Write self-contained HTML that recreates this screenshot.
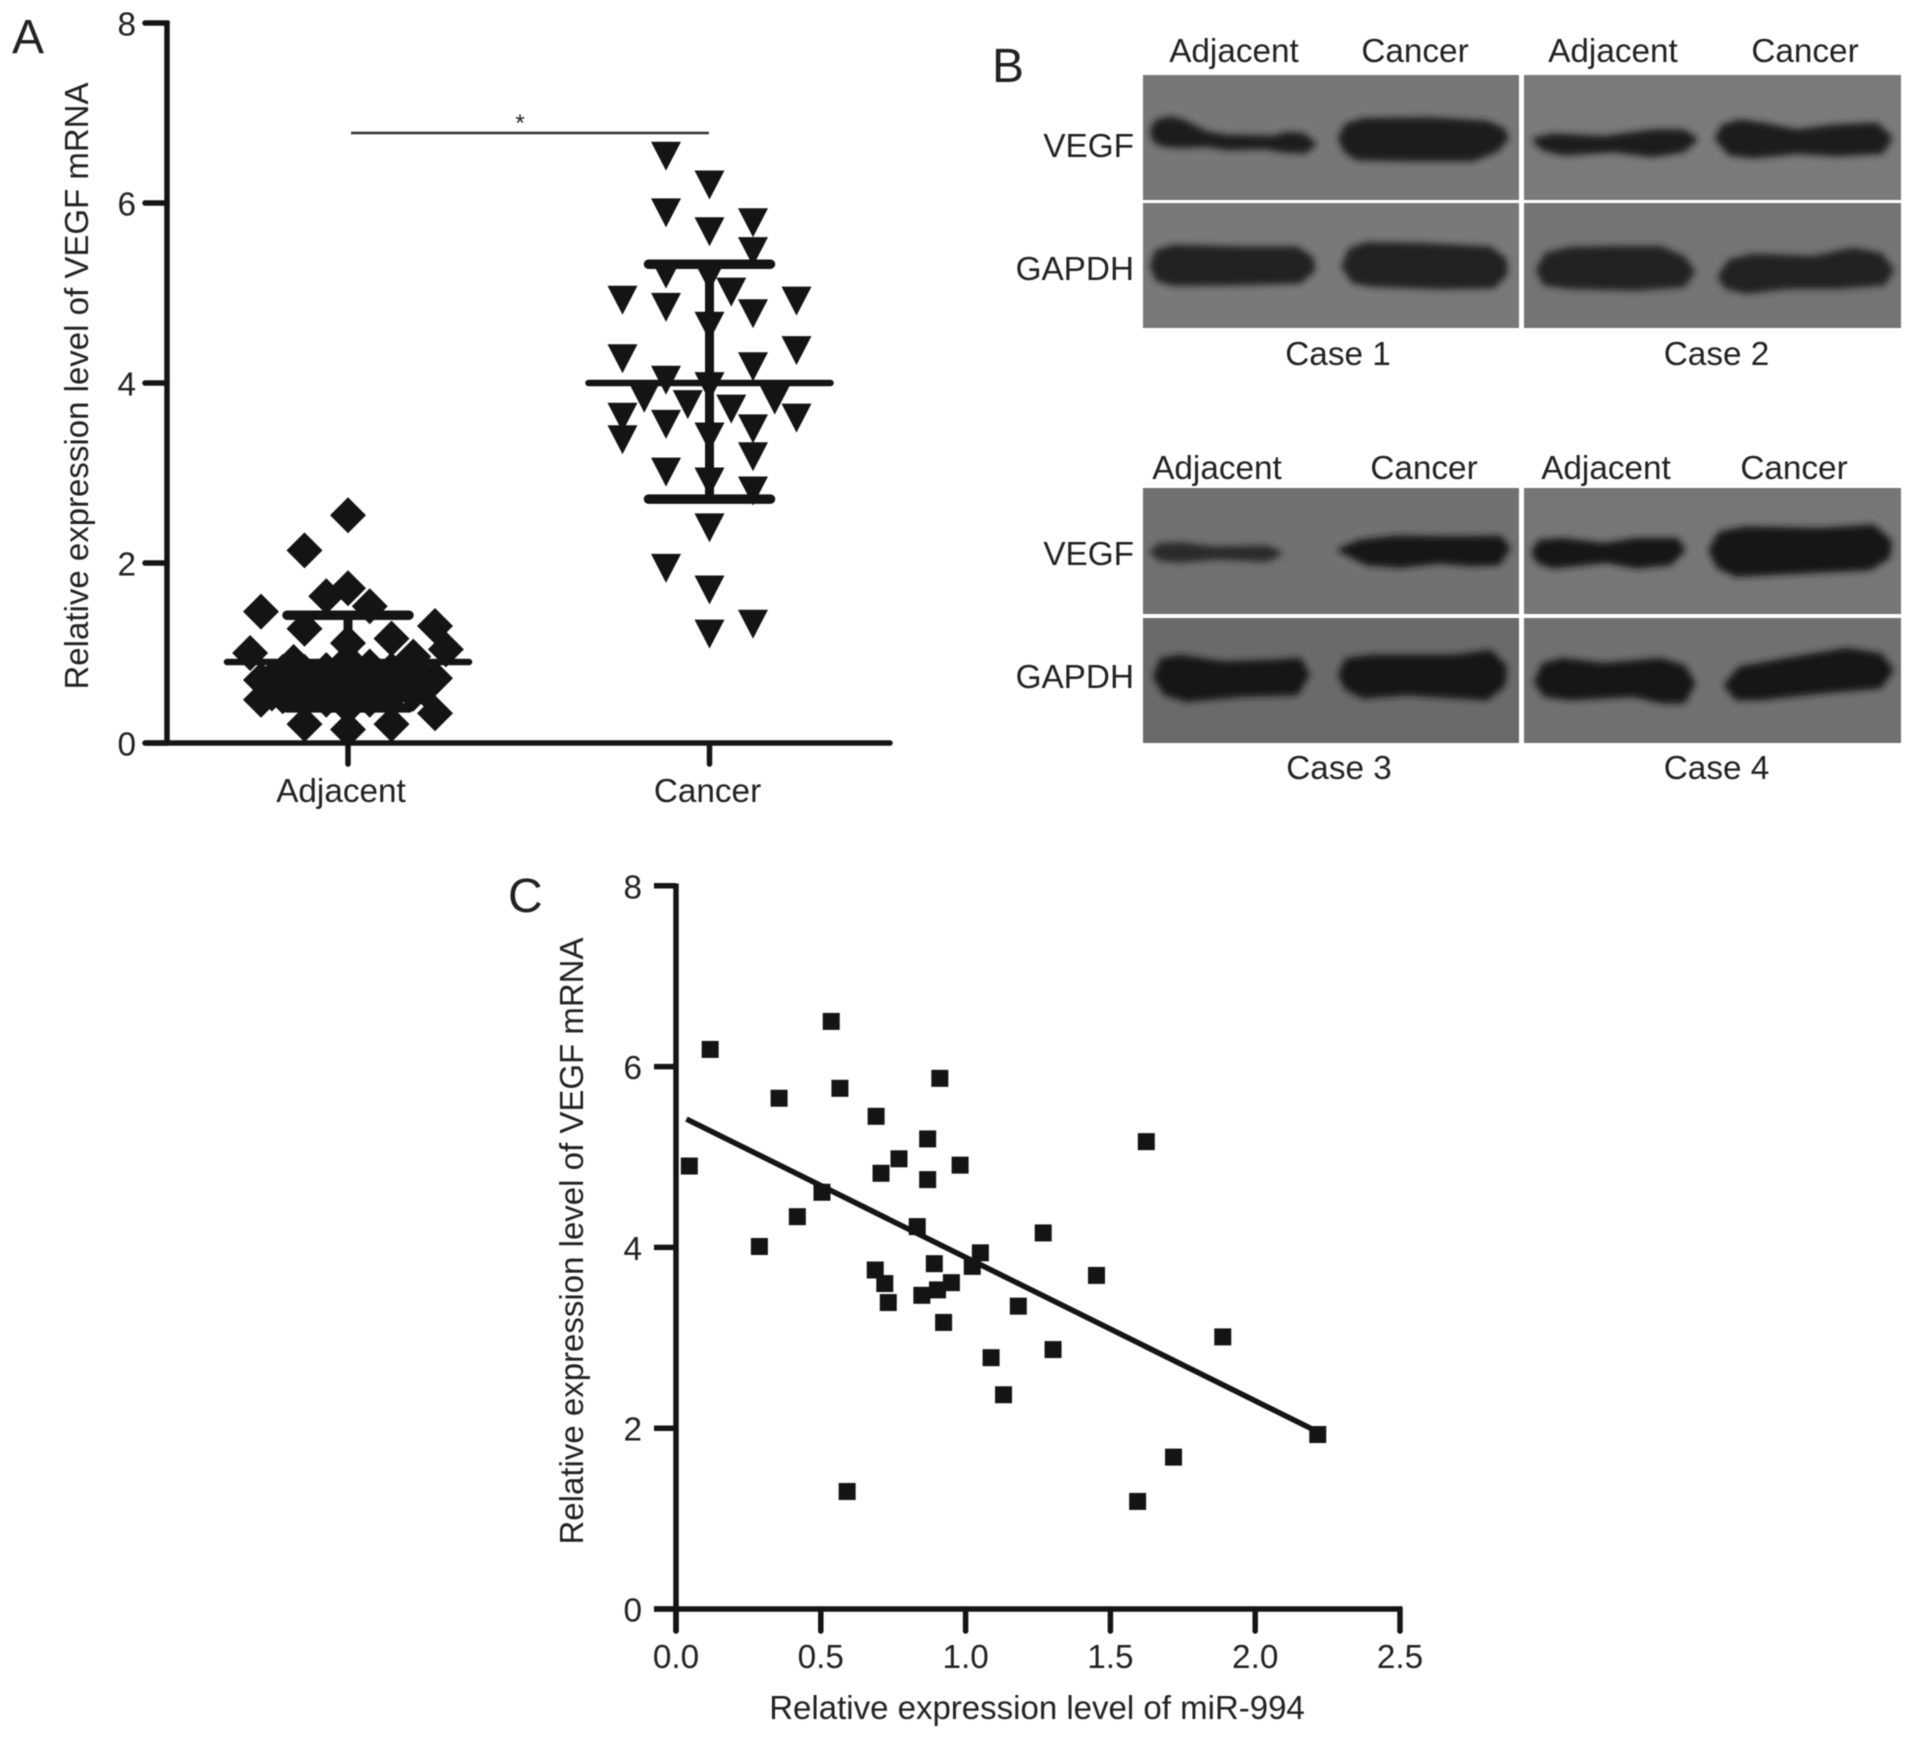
<!DOCTYPE html>
<html lang="en">
<head>
<meta charset="utf-8">
<title>VEGF expression figure</title>
<style>
html,body{margin:0;padding:0;background:#fff;width:1913px;height:1739px;overflow:hidden}
svg{display:block;filter:blur(.6px)}
text{font-family:"Liberation Sans",sans-serif;fill:#222;font-size:33.3px}
.panel{font-size:48px}
.title{font-size:33px}
</style>
</head>
<body>
<svg id="fig" xmlns="http://www.w3.org/2000/svg" width="1913" height="1739" viewBox="0 0 1913 1739">
<defs>
<filter id="soft" x="-20%" y="-40%" width="140%" height="180%"><feGaussianBlur stdDeviation="10"/></filter>
</defs>
<rect width="1913" height="1739" fill="#fff"/>

<!-- Panel A -->
<g id="panelA">
<text class="panel" x="12" y="53">A</text>
<text class="title" transform="translate(88,386) rotate(-90)" text-anchor="middle">Relative expression level of VEGF mRNA</text>
<line x1="351" y1="133" x2="709" y2="133" stroke="#333" stroke-width="2.6"/>
<text x="520" y="131" text-anchor="middle" style="font-size:24px">*</text>
</g>

<!-- Panel B -->
<g id="panelB">
<text class="panel" x="992" y="82">B</text>

<text x="1234" y="62" text-anchor="middle">Adjacent</text>
<text x="1415" y="62" text-anchor="middle">Cancer</text>
<text x="1613" y="62" text-anchor="middle">Adjacent</text>
<text x="1805" y="62" text-anchor="middle">Cancer</text>
<text x="1134" y="157" text-anchor="end">VEGF</text>
<text x="1134" y="280" text-anchor="end">GAPDH</text>
<text x="1338" y="365" text-anchor="middle">Case 1</text>
<text x="1716.5" y="365" text-anchor="middle">Case 2</text>

<text x="1217" y="479" text-anchor="middle">Adjacent</text>
<text x="1424" y="479" text-anchor="middle">Cancer</text>
<text x="1606" y="479" text-anchor="middle">Adjacent</text>
<text x="1794" y="479" text-anchor="middle">Cancer</text>
<text x="1134" y="565" text-anchor="end">VEGF</text>
<text x="1134" y="688" text-anchor="end">GAPDH</text>
<text x="1339" y="779" text-anchor="middle">Case 3</text>
<text x="1716.5" y="779" text-anchor="middle">Case 4</text>

<rect x="1143" y="75" width="376" height="125" fill="#777"/>
<rect x="1143" y="203" width="376" height="125" fill="#797979"/>
<rect x="1524" y="75" width="377" height="125" fill="#7a7a7a"/>
<rect x="1524" y="203" width="377" height="125" fill="#747474"/>
<rect x="1143" y="488" width="376" height="126" fill="#717171"/>
<rect x="1143" y="618" width="376" height="125" fill="#6a6a6a"/>
<rect x="1524" y="488" width="377" height="126" fill="#767676"/>
<rect x="1524" y="618" width="377" height="125" fill="#707070"/>

<g transform="translate(1140,70) scale(.33333)" fill="#1c1c1c" stroke="#1c1c1c" stroke-width="12" stroke-linejoin="round" filter="url(#soft)">
<polygon points="35,185 50,155 90,145 130,155 200,190 260,200 400,203 440,192 490,195 522,222 495,245 430,242 380,232 260,235 200,225 130,228 70,225 45,212"/>
<polygon points="600,205 620,165 670,150 870,148 1040,158 1090,180 1100,205 1070,240 1000,268 800,268 650,265 615,240"/>
<polygon fill="#222" stroke="#222" points="35,590 50,545 100,530 300,535 470,535 515,565 520,600 480,635 300,640 100,642 55,630"/>
<polygon fill="#222" stroke="#222" points="610,590 630,540 680,522 850,525 1050,535 1095,570 1098,610 1060,650 900,652 700,645 640,635"/>
</g>
<g transform="translate(1520,70) scale(.33333)" fill="#1b1b1b" stroke="#1b1b1b" stroke-width="14" stroke-linejoin="round" filter="url(#soft)">
<polygon points="45,210 100,197 250,205 400,185 490,185 525,208 490,240 400,255 280,240 130,250 70,235"/>
<polygon points="592,205 610,170 660,155 730,165 830,185 950,170 1070,165 1110,205 1085,245 950,252 830,245 700,258 630,250"/>
<polygon fill="#242424" stroke="#242424" points="55,600 80,555 150,538 300,535 420,535 490,565 518,605 490,645 350,655 150,650 75,640"/>
<polygon fill="#242424" stroke="#242424" points="600,620 630,575 700,558 880,565 1000,540 1080,555 1115,600 1090,640 950,650 800,650 680,665 620,650"/>
</g>
<g transform="translate(1140,485) scale(.33333)" fill="#191919" stroke="#191919" stroke-width="12" stroke-linejoin="round" filter="url(#soft)">
<polygon fill="#2a2a2a" stroke="#2a2a2a" points="35,200 60,180 130,178 220,190 380,187 420,205 380,225 230,218 120,228 60,222"/>
<polygon points="600,195 660,170 770,158 950,160 1080,158 1105,190 1075,235 990,238 900,230 780,243 680,235"/>
<polygon points="45,575 65,525 120,515 250,535 400,530 480,525 503,570 470,625 300,630 140,645 75,625"/>
<polygon points="600,570 620,525 700,515 950,515 1050,500 1095,545 1090,600 1040,640 800,625 670,635 620,610"/>
</g>
<g transform="translate(1520,485) scale(.33333)" fill="#181818" stroke="#181818" stroke-width="12" stroke-linejoin="round" filter="url(#soft)">
<polygon points="40,200 60,170 130,165 250,180 350,165 470,165 490,195 450,235 350,245 260,228 100,245 55,230"/>
<polygon points="572,195 600,145 680,130 900,135 1060,125 1110,170 1105,215 1050,250 800,262 650,270 595,245"/>
<polygon points="48,590 70,540 130,525 250,540 420,525 490,545 520,595 490,650 430,650 340,630 150,640 75,630"/>
<polygon points="618,600 660,550 800,525 980,495 1080,510 1115,555 1080,605 900,620 720,640 650,640"/>
</g>
</g>

<!-- Panel C -->
<g id="panelC">
<text class="panel" x="508" y="912">C</text>
<text class="title" transform="translate(583,1241) rotate(-90)" text-anchor="middle">Relative expression level of VEGF mRNA</text>
<text class="title" x="1037" y="1719" text-anchor="middle">Relative expression level of miR-994</text>
</g>
</svg>

<script>
/* Panel A data */
const categories = ['Adjacent', 'Cancer'];
const yTicksA = [0, 2, 4, 6, 8];
const adjacentValues = [2.53,2.14,1.72,1.63,1.52,1.46,1.30,1.27,1.16,1.00,1.04,1.11,0.90,0.48,0.33,0.21,0.15,0.21,0.96,0.70,0.72,0.81,0.92,0.85,0.81,0.74,0.70,0.66,0.63,0.63,0.63,0.63,0.55,0.52,0.40,0.48,0.48,0.52,0.52,0.70,0.79,0.66,0.55,0.79,0.66,0.55,0.79,0.66,0.55,0.79,0.66,0.55,0.79,0.66,0.55,0.79,0.66,0.55,0.79,0.66,0.55,0.72,0.55,0.72,0.60];
const adjacentColumns = [0,-2,0,-1,1,-4,4,-2,2,-4.5,4.5,0,-2.5,-4,4,-2,0,2,3,-4,4,-1,0,1,2,3,-2,-3,-1,0,1,2,3,-3,0,-1,1,2,-2,3,-3,-3,-3,-2,-2,-2,-1,-1,-1,0,0,0,1,1,1,2,2,2,3,3,3,-3.5,-3.5,3.5,3.5];
const cancerValues = [6.52,6.20,5.89,5.68,5.78,5.46,5.21,5.18,4.92,4.84,5.01,4.77,4.91,4.63,4.27,4.36,4.18,4.03,3.96,3.83,3.81,3.76,3.71,3.62,3.37,3.54,3.61,3.49,3.40,3.18,3.01,2.90,2.80,2.39,1.94,1.70,1.32,1.21];
const cancerColumns = [-2,0,-2,0,2,2,-2,0,-4,-2,1,2,4,0,-4,4,2,-2,0,-3,3,-1,1,-4,-4,-2,4,2,0,2,-2,0,2,0,-2,0,2,0];
const groupMeans = [0.90, 4.00];
const groupSdLower = [0.39, 2.71];
const groupSdUpper = [1.42, 5.32];

/* Panel C data */
const xTicksC = [0.0, 0.5, 1.0, 1.5, 2.0, 2.5];
const yTicksC = [0, 2, 4, 6, 8];
const mirValues = [0.046,0.118,0.288,0.356,0.419,0.504,0.536,0.566,0.591,0.691,0.688,0.708,0.721,0.733,0.770,0.833,0.849,0.869,0.869,0.892,0.903,0.911,0.924,0.951,0.981,1.023,1.051,1.088,1.131,1.182,1.268,1.302,1.452,1.594,1.624,1.718,1.888,2.216];
const vegfValues = [4.90,6.19,4.01,5.65,4.34,4.61,6.50,5.76,1.30,5.45,3.75,4.82,3.60,3.39,4.98,4.23,3.47,5.20,4.75,3.82,3.53,5.87,3.17,3.61,4.91,3.79,3.94,2.78,2.37,3.35,4.16,2.87,3.69,1.19,5.17,1.68,3.01,1.93];
const fitX = [0.036, 2.216];
const fitY = [5.42, 1.96];

const NS = 'http://www.w3.org/2000/svg';
const INK = '#141414';
const panelA = document.getElementById('panelA');
const panelC = document.getElementById('panelC');

/* axis functions */
function yA(v) { return 743 - 90 * v; }
function xA(groupIndex) { return 348 + 361.5 * groupIndex; }
function colX(groupIndex, column) { return xA(groupIndex) + 21.75 * column; }
function yC(v) { return 1609 - 90.4 * v; }
function xC(v) { return 676 + 289.6 * v; }

function make(tag, parent, attrs) {
  const node = document.createElementNS(NS, tag);
  for (const k in attrs) node.setAttribute(k, attrs[k]);
  parent.appendChild(node);
  return node;
}
function seg(parent, x1, y1, x2, y2, width, cap) {
  return make('line', parent, { x1: x1, y1: y1, x2: x2, y2: y2, stroke: INK, 'stroke-width': width, 'stroke-linecap': cap || 'butt' });
}

/* Panel A axes */
let el = seg(panelA, 167, 20.5, 167, 745.5, 5.5);


el = seg(panelA, 146, 743, 890, 743, 5.5, 'round');



yTicksA.forEach(function (t) {
  let tick = seg(panelA, 145, yA(t), 167, yA(t), 5.5, 'round');
  
  
  let label = make('text', panelA, { x: 136, y: yA(t) + 12.5, 'text-anchor': 'end' });
  label.textContent = String(t);
  
  
});

categories.forEach(function (c, i) {
  let tick = seg(panelA, xA(i), 743, xA(i), 764, 5.5, 'round');
  
  
  let label = make('text', panelA, { x: xA(i) - (i === 0 ? 7 : 2), y: 802, 'text-anchor': 'middle' });
  label.textContent = c;
  
  
});

/* Panel A markers */
adjacentValues.forEach(function (v, i) {
  const cx = colX(0, adjacentColumns[i]);
  const cy = yA(v);
  const r = 18;
  let mark = make('polygon', panelA, { points: [cx, cy - r, cx + r, cy, cx, cy + r, cx - r, cy].join(','), fill: INK });
  
  
});
cancerValues.forEach(function (v, i) {
  const cx = colX(1, cancerColumns[i]);
  const cy = yA(v);
  let mark = make('polygon', panelA, { points: [cx - 15, cy - 14.5, cx + 15, cy - 14.5, cx, cy + 14.5].join(','), fill: INK });
  
  
});

/* Panel A mean and SD bars */
categories.forEach(function (c, i) {
  let whisker = seg(panelA, xA(i), yA(groupSdUpper[i]), xA(i), yA(groupSdLower[i]), 9);
  
  
  let mean = seg(panelA, xA(i) - 121, yA(groupMeans[i]), xA(i) + 121, yA(groupMeans[i]), 6.5, 'round');
  
  
  let upper = seg(panelA, xA(i) - 61, yA(groupSdUpper[i]), xA(i) + 61, yA(groupSdUpper[i]), 9.5, 'round');
  
  
  let lower = seg(panelA, xA(i) - 61, yA(groupSdLower[i]), xA(i) + 61, yA(groupSdLower[i]), 9.5, 'round');
  
  
});

/* Panel C axes */
el = seg(panelC, 676, 883.5, 676, 1632, 5.5);


el = seg(panelC, 654, 1609, xC(2.5) + 2.5, 1609, 5.5);



yTicksC.forEach(function (t) {
  let tick = seg(panelC, 654, yC(t), 676, yC(t), 5.5);
  
  
  let label = make('text', panelC, { x: 642, y: yC(t) + 12.5, 'text-anchor': 'end' });
  label.textContent = String(t);
  
  
});
xTicksC.forEach(function (t) {
  let tick = seg(panelC, xC(t), 1609, xC(t), 1631, 5.5, 'round');
  
  
  let label = make('text', panelC, { x: xC(t), y: 1668, 'text-anchor': 'middle' });
  label.textContent = t.toFixed(1);
  
  
});

/* Panel C points and fit */
mirValues.forEach(function (v, i) {
  let mark = make('rect', panelC, { x: xC(v) - 8.5, y: yC(vegfValues[i]) - 8.5, width: 17, height: 17, fill: INK });
  
  
});
el = seg(panelC, xC(fitX[0]), yC(fitY[0]), xC(fitX[1]), yC(fitY[1]), 5.5);


</script>
</body>
</html>
